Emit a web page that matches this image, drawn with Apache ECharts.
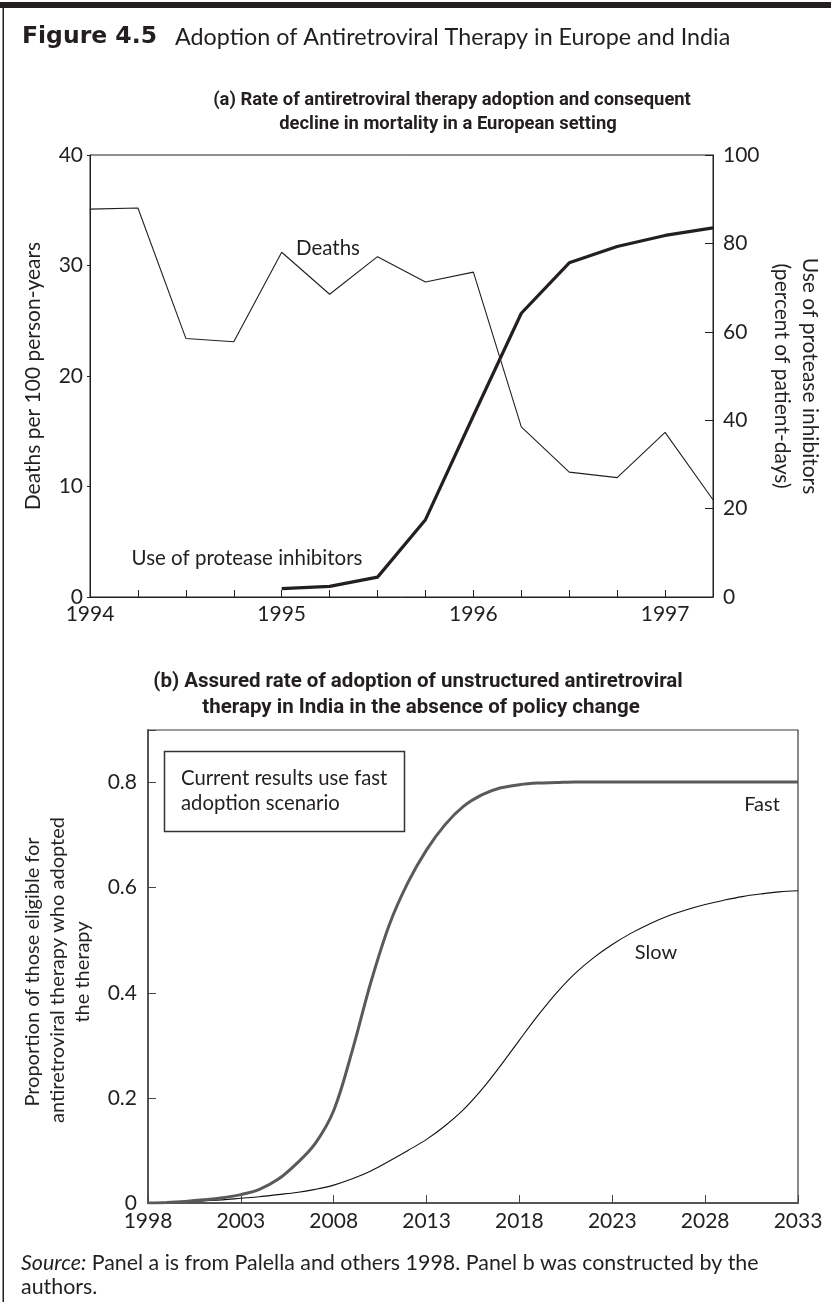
<!DOCTYPE html>
<html><head><meta charset="utf-8">
<script src="https://cdn.jsdelivr.net/npm/echarts@6/dist/echarts.min.js"></script>
<style>html,body{margin:0;padding:0;background:#fff}#c{width:831px;height:1302px}</style>
</head><body><div id="c"></div>
<script>
// Panel (a): quarterly observations
const quarters = [1994, 1994.25, 1994.5, 1994.75, 1995, 1995.25, 1995.5, 1995.75, 1996, 1996.25, 1996.5, 1996.75, 1997, 1997.25];
const deaths   = [35.1, 35.2, 23.4, 23.1, 31.2, 27.4, 30.8, 28.5, 29.4, 15.4, 11.3, 10.8, 14.9, 8.8];
const piUse    = [null, null, null, null, 1.9, 2.4, 4.5, 17.5, 41, 64.2, 75.6, 79.3, 81.8, 83.5];
const leftTicksA  = [0, 10, 20, 30, 40];
const rightTicksA = [0, 20, 40, 60, 80, 100];

// Panel (b): yearly projections
const years = [1998,1999,2000,2001,2002,2003,2004,2005,2006,2007,2008,2009,2010,2011,2012,2013,2014,2015,2016,2017,2018,2019,2020,2021,2022,2023,2024,2025,2026,2027,2028,2029,2030,2031,2032,2033];
const fast = [0,0.001,0.003,0.006,0.01,0.016,0.026,0.045,0.075,0.113,0.176,0.29,0.42,0.53,0.61,0.672,0.72,0.755,0.777,0.79,0.796,0.799,0.8,0.801,0.801,0.801,0.801,0.801,0.801,0.801,0.801,0.801,0.801,0.801,0.801,0.801];
const slow = [0,0.001,0.002,0.004,0.006,0.009,0.012,0.016,0.02,0.026,0.034,0.046,0.061,0.08,0.1,0.121,0.147,0.178,0.217,0.262,0.31,0.357,0.4,0.437,0.467,0.492,0.513,0.531,0.546,0.558,0.568,0.576,0.583,0.588,0.592,0.594];
const yTicksB = [0, 0.2, 0.4, 0.6, 0.8];

const INK = '#231f20';
const F = 'Lato, "Open Sans", sans-serif';
const NARROW = '"Liberation Sans Narrow", "Roboto", sans-serif';

const chart = echarts.init(document.getElementById('c'), null, {renderer: 'canvas'});

function txt(text, x, y, size, opts) {
  opts = opts || {};
  return {
    type: 'text', x: x, y: y, rotation: opts.rot || 0, silent: true,
    style: {
      text: text, fill: INK,
      font: (opts.style || '') + ' ' + (opts.weight || 'normal') + ' ' + size + 'px ' + (opts.family || F),
      align: opts.align || 'center', verticalAlign: 'middle'
    }
  };
}

const option = {
  animation: false,
  backgroundColor: '#fff',
  grid: [
    {left: 90, top: 155, width: 623, height: 442, show: true, borderColor: INK, borderWidth: 1, containLabel: false},
    {left: 148, top: 730, width: 650, height: 473, show: true, borderColor: '#3a3a3a', borderWidth: 1.2, containLabel: false}
  ],
  xAxis: [
    {
      type: 'value', gridIndex: 0, min: 1994, max: 1997.25, interval: 0.25,
      axisLine: {lineStyle: {color: INK, width: 1}},
      axisTick: {inside: true, length: 7, lineStyle: {color: INK}},
      splitLine: {show: false},
      axisLabel: {color: INK, fontFamily: F, fontSize: 21, margin: 7,
        formatter: v => (Math.abs(v - Math.round(v)) < 1e-6 ? String(Math.round(v)) : '')}
    },
    {
      type: 'value', gridIndex: 1, min: years[0], max: years[years.length - 1], interval: 5,
      axisLine: {lineStyle: {color: '#555', width: 2}},
      axisTick: {inside: true, length: 8, lineStyle: {color: '#444'}},
      splitLine: {show: false},
      axisLabel: {color: INK, fontFamily: F, fontSize: 21, margin: 8, formatter: v => String(v)}
    }
  ],
  yAxis: [
    {
      type: 'value', gridIndex: 0, min: 0, max: 40, interval: 10,
      axisLine: {show: true, lineStyle: {color: INK}},
      axisTick: {show: true, length: 3, lineStyle: {color: INK}},
      splitLine: {show: false},
      axisLabel: {color: INK, fontFamily: F, fontSize: 21, margin: 7,
        formatter: v => (leftTicksA.indexOf(v) >= 0 ? String(v) : '')}
    },
    {
      type: 'value', gridIndex: 0, position: 'right', min: 0, max: 100, interval: 20,
      axisLine: {show: true, lineStyle: {color: INK}},
      axisTick: {show: true, inside: true, length: 8, lineStyle: {color: INK}},
      splitLine: {show: false},
      axisLabel: {color: INK, fontFamily: F, fontSize: 21, margin: 10,
        formatter: v => (rightTicksA.indexOf(v) >= 0 ? String(v) : '')}
    },
    {
      type: 'value', gridIndex: 1, min: 0, max: 0.9, interval: 0.2,
      axisLine: {show: true, lineStyle: {color: '#555', width: 2}},
      axisTick: {show: true, inside: true, length: 8, lineStyle: {color: '#444'}},
      splitLine: {show: false},
      axisLabel: {color: INK, fontFamily: F, fontSize: 21, margin: 11,
        formatter: v => { const t = yTicksB.find(k => Math.abs(k - v) < 1e-6); return t === undefined ? '' : (t === 0 ? '0' : t.toFixed(1)); }}
    }
  ],
  series: [
    {
      name: 'Deaths', type: 'line', xAxisIndex: 0, yAxisIndex: 0, symbol: 'none',
      lineStyle: {color: INK, width: 1.1},
      data: quarters.map((q, i) => [q, deaths[i]])
    },
    {
      name: 'Use of protease inhibitors', type: 'line', xAxisIndex: 0, yAxisIndex: 1, symbol: 'none',
      lineStyle: {color: INK, width: 3.2},
      data: quarters.map((q, i) => [q, piUse[i]]).filter(d => d[1] !== null)
    },
    {
      name: 'Slow', type: 'line', xAxisIndex: 1, yAxisIndex: 2, symbol: 'none', smooth: 0.35,
      lineStyle: {color: '#111', width: 1.1},
      data: years.map((y, i) => [y, slow[i]])
    },
    {
      name: 'Fast', type: 'line', xAxisIndex: 1, yAxisIndex: 2, symbol: 'none', smooth: 0.35,
      lineStyle: {color: '#5a5a5c', width: 3},
      data: years.map((y, i) => [y, fast[i]])
    }
  ],
  graphic: [
    {type: 'rect', shape: {x: 0, y: 2, width: 831, height: 6}, style: {fill: INK}, silent: true},
    {type: 'rect', shape: {x: 2.5, y: 7, width: 1.5, height: 1295}, style: {fill: INK}, silent: true},
    txt('Figure 4.5', 22, 37, 23.5, {align: 'left', weight: 'bold', family: '"DejaVu Sans", sans-serif'}),
    txt('Adoption of Antiretroviral Therapy in Europe and India', 175, 37, 23.3, {align: 'left'}),
    txt('(a) Rate of antiretroviral therapy adoption and consequent', 452, 100, 18.4, {weight: 'bold', family: NARROW}),
    txt('decline in mortality in a European setting', 448, 124, 18.4, {weight: 'bold', family: NARROW}),
    txt('Deaths per 100 person-years', 33, 376, 21, {rot: Math.PI / 2}),
    txt('Use of protease inhibitors', 810, 376, 21, {rot: -Math.PI / 2}),
    txt('(percent of patient-days)', 782, 376, 21, {rot: -Math.PI / 2}),
    txt('Deaths', 328, 248, 20.5),
    txt('Use of protease inhibitors', 247, 558, 20.5),
    txt('(b) Assured rate of adoption of unstructured antiretroviral', 418, 682, 20.5, {weight: 'bold', family: NARROW}),
    txt('therapy in India in the absence of policy change', 421, 708, 20.5, {weight: 'bold', family: NARROW}),
    txt('Proportion of those eligible for', 33, 972, 20, {rot: Math.PI / 2}),
    txt('antiretroviral therapy who adopted', 58, 970, 20, {rot: Math.PI / 2}),
    txt('the therapy', 83, 972, 20, {rot: Math.PI / 2}),
    {type: 'rect', shape: {x: 164.5, y: 751.5, width: 240, height: 80}, style: {fill: 'none', stroke: '#333', lineWidth: 1.5}, silent: true},
    txt('Current results use fast', 181, 778, 20.3, {align: 'left'}),
    txt('adoption scenario', 181, 803, 20.3, {align: 'left'}),
    txt('Fast', 762, 805, 20),
    txt('Slow', 656, 953, 20),
    {
      type: 'text', x: 21, y: 1263, silent: true,
      style: {
        text: '{i|Source:} Panel a is from Palella and others 1998. Panel b was constructed by the',
        font: 'normal 21.4px ' + F, fill: INK, align: 'left', verticalAlign: 'middle',
        rich: {i: {font: 'italic 21.4px ' + F, fill: INK}}
      }
    },
    txt('authors.', 21, 1287, 21.4, {align: 'left'})
  ]
};
chart.setOption(option);
</script>
</body></html>
